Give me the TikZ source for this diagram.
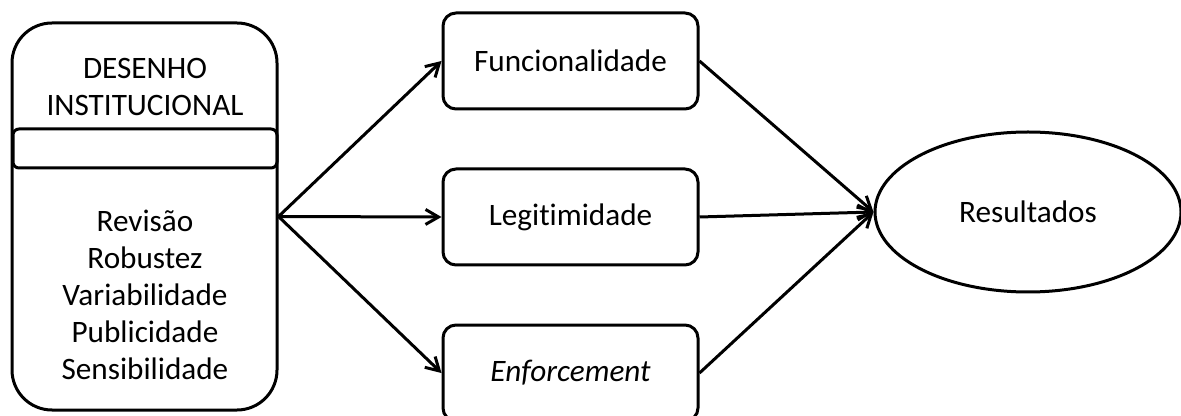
\documentclass[tikz,border=0pt]{standalone}
\usepackage{fontspec}
\setmainfont{Carlito}[Ligatures=NoCommon]
\usetikzlibrary{arrows.meta,shapes.geometric}

\begin{document}
\begin{tikzpicture}[x=0.5pt,y=-0.5pt,
        every node/.style={font=\fontsize{15.6}{18.5}\selectfont},
        caixa/.style={draw,line width=1.5pt,rounded corners=6.5pt,minimum width=127.5pt,minimum height=48pt},
        seta/.style={line width=1.5pt,-{Straight Barb[length=6.5pt,width=7.5pt]}}]
    \useasboundingbox (0,0) rectangle (1181,416);
    % bloco da esquerda
    \node[draw,line width=1.5pt,rounded corners=20pt,minimum width=132.5pt,minimum height=193.5pt] (desenho) at (144.5,216.5) {};
    \node[draw,line width=1.5pt,rounded corners=3pt,minimum width=132pt,minimum height=19.5pt] (faixa) at (145,148.5) {};
    \node[align=center] (titulo) at (145,86.5) {DESENHO\\INSTITUCIONAL};
    \node[align=center] (lista) at (145,294.5) {Revisão\\Robustez\\Variabilidade\\Publicidade\\Sensibilidade};
    % dimensoes
    \node[caixa] (func) at (570.5,61) {Funcionalidade};
    \node[caixa] (legit) at (570.5,217) {Legitimidade};
    \node[caixa] (enf) at (570.5,373) {\textit{Enforcement}};
    \node[draw,ellipse,line width=1.5pt,inner sep=0pt,minimum width=153pt,minimum height=80pt] (result) at (1028,212) {Resultados};
    % setas
    \draw[seta] (desenho.east) -- (func.west);
    \draw[seta] (desenho.east) -- (legit.west);
    \draw[seta] (desenho.east) -- (enf.west);
    \draw[seta] (func.east) -- (result.west);
    \draw[seta] (legit.east) -- (result.west);
    \draw[seta] (enf.east) -- (result.west);
\end{tikzpicture}
\end{document}
